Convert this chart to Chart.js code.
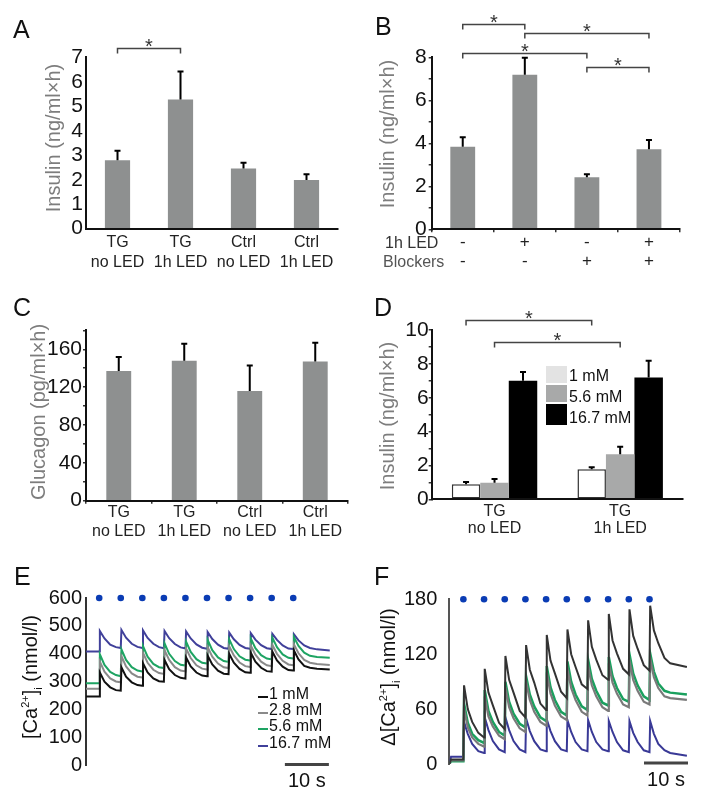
<!DOCTYPE html>
<html>
<head>
<meta charset="utf-8">
<title>Insulin, glucagon and [Ca2+]i</title>
<script src="https://cdn.jsdelivr.net/npm/chart.js@4.4.1/dist/chart.umd.min.js"></script>
<style>
  body { margin: 0; background: #fff; font-family: "Liberation Sans", Arial, sans-serif; }
  #fig { position: relative; width: 705px; height: 797px; overflow: hidden; }
  #fig canvas { position: absolute; }
  .tag { position: absolute; font-size: 25px; line-height: 1; color: #111; }
  .ytitle { position: absolute; white-space: nowrap; font-size: 20px; line-height: 1; color: #111;
            transform: translate(-50%, -50%) rotate(-90deg); }
  .ytitle.grey { color: #7d7d7d; }
  .txt { position: absolute; white-space: nowrap; font-size: 16px; line-height: 18px; color: #111; }
  .box { position: absolute; left: 546px; width: 21px; }
  .sw { position: absolute; left: 258px; width: 10px; height: 2px; }
  sup, sub { font-size: 11px; line-height: 0; }
</style>
</head>
<body>
<div id="fig">
  <canvas id="chartA" width="352" height="290" style="left:0;top:0"></canvas>
  <canvas id="chartB" width="353" height="290" style="left:352px;top:0"></canvas>
  <canvas id="chartC" width="352" height="270" style="left:0;top:290px"></canvas>
  <canvas id="chartD" width="353" height="270" style="left:352px;top:290px"></canvas>
  <canvas id="chartE" width="352" height="237" style="left:0;top:560px"></canvas>
  <canvas id="chartF" width="353" height="237" style="left:352px;top:560px"></canvas>

  <div class="tag" style="left:13px;top:17px">A</div>
  <div class="tag" style="left:375px;top:14px">B</div>
  <div class="tag" style="left:13px;top:295px">C</div>
  <div class="tag" style="left:374px;top:295px">D</div>
  <div class="tag" style="left:14px;top:564px">E</div>
  <div class="tag" style="left:374px;top:564px">F</div>

  <div class="ytitle grey" style="left:53px;top:138px">Insulin (ng/ml×h)</div>
  <div class="ytitle grey" style="left:387px;top:134px">Insulin (ng/ml×h)</div>
  <div class="ytitle grey" style="left:38px;top:412px">Glucagon (pg/ml×h)</div>
  <div class="ytitle grey" style="left:387px;top:416px">Insulin (ng/ml×h)</div>
  <div class="ytitle" style="left:30px;top:677px">[Ca<sup>2+</sup>]<sub>i</sub> (nmol/l)</div>
  <div class="ytitle" style="left:388px;top:677px">Δ[Ca<sup>2+</sup>]<sub>i</sub> (nmol/l)</div>

  <div class="txt" style="left:385px;top:234px;color:#333">1h LED</div>
  <div class="txt" style="left:383px;top:253px;color:#555">Blockers</div>

  <div class="box" style="top:366px;height:17px;background:#e3e3e3"></div>
  <div class="box" style="top:385px;height:17px;background:#a8a9a9"></div>
  <div class="box" style="top:404px;height:21px;background:#000"></div>
  <div class="txt" style="left:569px;top:367px">1 mM</div>
  <div class="txt" style="left:569px;top:388px">5.6 mM</div>
  <div class="txt" style="left:569px;top:409px">16.7 mM</div>

  <div class="sw" style="top:696px;background:#111"></div>
  <div class="sw" style="top:712px;background:#8a8a8a"></div>
  <div class="sw" style="top:728px;background:#1ea463"></div>
  <div class="sw" style="top:745px;background:#40409a"></div>
  <div class="txt" style="left:269px;top:685px">1 mM</div>
  <div class="txt" style="left:269px;top:701px">2.8 mM</div>
  <div class="txt" style="left:269px;top:717px">5.6 mM</div>
  <div class="txt" style="left:269px;top:734px">16.7 mM</div>
</div>

<script>
// A: insulin release, TG and control islets
const labelsA = [['TG', 'no LED'], ['TG', '1h LED'], ['Ctrl', 'no LED'], ['Ctrl', '1h LED']];
const insulinA = [2.8, 5.28, 2.46, 1.99];
const semA = [0.38, 1.14, 0.23, 0.23];
const sigA = [[0, 0, 1, 7.4]];            // dataset, from, to, level

// B: light and blockers
const labelsB = [['-', '-'], ['+', '-'], ['-', '+'], ['+', '+']];
const insulinB = [3.84, 7.19, 2.42, 3.72];
const semB = [0.44, 0.79, 0.14, 0.43];
const sigB = [[0, 0, 1, 9.55], [0, 1, 3, 9.12], [0, 0, 2, 8.21], [0, 2, 3, 7.56]];

// C: glucagon
const labelsC = [['TG', 'no LED'], ['TG', '1h LED'], ['Ctrl', 'no LED'], ['Ctrl', '1h LED']];
const glucagonC = [137, 148, 116, 147];
const semC = [15, 18, 27, 20];

// D: glucose dependence
const labelsD = [['TG', 'no LED'], ['TG', '1h LED']];
const insulin1mM = [0.89, 1.77];
const sem1mM = [0.13, 0.12];
const insulin56mM = [0.98, 2.66];
const sem56mM = [0.22, 0.45];
const insulin167mM = [7.0, 7.2];
const sem167mM = [0.52, 0.99];
const sigD = [[0, 0, 1, 10.59], [1, 0, 1, 9.31]];

// E: [Ca2+]i traces, time in s
const timeE = [0,
  3.0, 3.15, 4.2, 5.5, 6.8,
  7.9, 8.05, 9.1, 10.4, 11.7,
  12.8, 12.95, 14.0, 15.3, 16.6,
  17.7, 17.85, 18.9, 20.2, 21.5,
  22.6, 22.75, 23.8, 25.1, 26.4,
  27.5, 27.65, 28.7, 30.0, 31.3,
  32.4, 32.55, 33.6, 34.9, 36.2,
  37.3, 37.45, 38.5, 39.8, 41.1,
  42.2, 42.35, 43.4, 44.7, 46.0,
  47.1, 47.25, 48.3, 49.6, 50.9,
  52.5, 55.4];
const caE1 = [247,
  247, 333, 300, 280, 270,
  268, 352, 318, 298, 288,
  286, 366, 333, 312, 302,
  300, 378, 345, 324, 314,
  311, 387, 355, 333, 322,
  320, 394, 362, 340, 329,
  327, 400, 368, 346, 334,
  332, 404, 372, 350, 338,
  336, 408, 376, 354, 342,
  340, 412, 380, 357, 350,
  347, 344];
const caE28 = [275,
  275, 372, 336, 312, 301,
  298, 392, 355, 330, 318,
  315, 404, 368, 343, 331,
  328, 413, 378, 352, 340,
  337, 419, 385, 359, 347,
  344, 424, 390, 365, 352,
  349, 427, 394, 369, 356,
  353, 430, 397, 372, 359,
  356, 432, 400, 375, 362,
  359, 434, 402, 378, 368,
  364, 360];
const caE56 = [295,
  295, 398, 360, 335, 324,
  320, 416, 378, 352, 340,
  337, 428, 390, 364, 352,
  349, 438, 400, 374, 361,
  358, 444, 407, 381, 368,
  365, 450, 413, 387, 374,
  371, 452, 417, 391, 379,
  376, 455, 420, 395, 383,
  380, 458, 424, 398, 386,
  383, 460, 428, 404, 393,
  389, 386];
const caE167 = [408,
  408, 482, 455, 433, 424,
  421, 486, 458, 436, 425,
  421, 484, 457, 436, 424,
  420, 482, 456, 435, 423,
  419, 480, 455, 434, 422,
  418, 478, 453, 433, 421,
  418, 476, 452, 432, 421,
  418, 474, 451, 431, 420,
  417, 472, 450, 430, 419,
  417, 470, 448, 430, 421,
  416, 412];
const stimE = [3.0, 7.9, 12.8, 17.7, 22.6, 27.5, 32.4, 37.3, 42.2, 47.1];

// F: delta [Ca2+]i traces
const timeF = [0, 0.4,
  3.2, 3.35, 4.2, 5.2, 6.6,
  7.9, 8.05, 8.9, 9.9, 11.3,
  12.6, 12.75, 13.6, 14.6, 16.0,
  17.3, 17.45, 18.3, 19.3, 20.7,
  22.0, 22.15, 23.0, 24.0, 25.4,
  26.7, 26.85, 27.7, 28.7, 30.1,
  31.4, 31.55, 32.4, 33.4, 34.8,
  36.1, 36.25, 37.1, 38.1, 39.5,
  40.8, 40.95, 41.8, 42.8, 44.2,
  45.5, 45.65, 46.5, 47.5, 48.9,
  50.2, 54.0];
const dcaF1 = [0, 5,
  5, 86, 60, 46, 34,
  29, 104, 78, 64, 45,
  38, 118, 92, 78, 58,
  51, 130, 103, 89, 66,
  59, 141, 113, 99, 79,
  72, 147, 120, 106, 87,
  82, 157, 128, 114, 97,
  92, 164, 135, 121, 104,
  98, 169, 140, 126, 108,
  102, 173, 146, 132, 116,
  110, 106];
const dcaF28 = [0, 4,
  4, 60, 40, 29, 22,
  19, 74, 52, 41, 31,
  27, 84, 62, 50, 39,
  35, 90, 70, 57, 46,
  42, 100, 77, 64, 52,
  48, 104, 83, 70, 57,
  53, 107, 86, 74, 62,
  58, 110, 89, 77, 65,
  62, 113, 92, 80, 68,
  65, 115, 95, 83, 74,
  72, 70];
const dcaF56 = [0, 3,
  3, 66, 45, 33, 26,
  23, 81, 58, 46, 35,
  31, 90, 68, 55, 44,
  40, 96, 76, 63, 51,
  47, 107, 84, 70, 57,
  53, 112, 90, 76, 63,
  59, 114, 93, 80, 67,
  64, 117, 96, 83, 71,
  68, 120, 99, 86, 74,
  70, 121, 101, 88, 80,
  78, 76];
const dcaF167 = [0, 8,
  8, 46, 33, 22, 14,
  12, 51, 37, 25, 16,
  13, 51, 37, 25, 16,
  13, 50, 36, 25, 16,
  14, 49, 36, 25, 16,
  14, 48, 35, 24, 16,
  14, 48, 35, 24, 16,
  14, 47, 35, 24, 15,
  13, 47, 34, 24, 15,
  13, 47, 33, 22, 15,
  12, 9];
const stimF = [3.2, 7.9, 12.6, 17.3, 22.0, 26.7, 31.4, 36.1, 40.8, 45.5];

const FONT = '"Liberation Sans", Arial, sans-serif';
Chart.defaults.font.family = FONT;
Chart.defaults.color = '#111';
Chart.defaults.animation = false;
Chart.defaults.responsive = false;
Chart.defaults.plugins.legend.display = false;
Chart.defaults.plugins.tooltip.enabled = false;

// upward SEM bars drawn from each bar top
function errorBars() {
  return {
    id: 'errorBars',
    afterDatasetsDraw(chart) {
      const ctx = chart.ctx, y = chart.scales.y;
      ctx.save();
      ctx.strokeStyle = '#000';
      ctx.lineWidth = 2;
      chart.data.datasets.forEach((ds, i) => {
        if (!ds.errors) return;
        chart.getDatasetMeta(i).data.forEach((bar, j) => {
          const top = y.getPixelForValue(ds.data[j] + ds.errors[j]);
          ctx.beginPath();
          ctx.moveTo(bar.x, bar.y);
          ctx.lineTo(bar.x, top);
          ctx.moveTo(bar.x - 3, top);
          ctx.lineTo(bar.x + 3, top);
          ctx.stroke();
        });
      });
      ctx.restore();
    }
  };
}

// significance brackets with an asterisk
function brackets(list) {
  return {
    id: 'brackets',
    afterDraw(chart) {
      const ctx = chart.ctx, y = chart.scales.y;
      ctx.save();
      ctx.strokeStyle = '#444';
      ctx.lineWidth = 1.5;
      ctx.fillStyle = '#333';
      ctx.font = '20px ' + FONT;
      ctx.textAlign = 'center';
      list.forEach(([ds, a, b, level]) => {
        const bars = chart.getDatasetMeta(ds).data;
        const x1 = bars[a].x, x2 = bars[b].x;
        const py = Math.round(y.getPixelForValue(level)) + 0.5;
        ctx.beginPath();
        ctx.moveTo(x1, py + 5);
        ctx.lineTo(x1, py);
        ctx.lineTo(x2, py);
        ctx.lineTo(x2, py + 5);
        ctx.stroke();
        ctx.fillText('*', (x1 + x2) / 2, py + 4);
      });
      ctx.restore();
    }
  };
}

// 10 s time scale bar under a trace panel
function scaleBar(t0, t1, label) {
  return {
    id: 'scaleBar',
    afterDraw(chart) {
      const {ctx, scales: {x, y}} = chart;
      const x1 = x.getPixelForValue(t0), x2 = x.getPixelForValue(t1);
      const py = y.getPixelForValue(0) - 1;
      ctx.save();
      ctx.strokeStyle = '#444';
      ctx.lineWidth = 3;
      ctx.beginPath();
      ctx.moveTo(x1, py);
      ctx.lineTo(x2, py);
      ctx.stroke();
      ctx.fillStyle = '#111';
      ctx.font = '20px ' + FONT;
      ctx.textAlign = 'center';
      ctx.textBaseline = 'middle';
      ctx.fillText(label, (x1 + x2) / 2, py + 17);
      ctx.restore();
    }
  };
}

function barChart(id, labels, datasets, o) {
  return new Chart(document.getElementById(id), {
    type: 'bar',
    data: {labels: labels, datasets: datasets},
    options: {
      layout: {padding: o.pad},
      scales: {
        x: {
          grid: {display: o.xTicks, drawOnChartArea: false, drawTicks: o.xTicks, tickLength: 3, color: '#333', lineWidth: 1.5},
          border: {color: '#111', width: 2, z: 1},
          ticks: {color: '#222', font: {size: o.xFont, lineHeight: o.xLine}, padding: o.xPad, maxRotation: 0, autoSkip: false},
          afterFit: s => { s.height = o.xH; }
        },
        y: {
          min: 0, max: o.max,
          grid: {display: o.yTicks, drawOnChartArea: false, drawTicks: o.yTicks, tickLength: 3, color: '#333', lineWidth: 1.5},
          border: {color: '#111', width: 2, z: 1},
          ticks: {stepSize: o.step, autoSkip: false, font: {size: 21}, color: '#111', padding: o.yPad,
                  callback: v => (v % o.major === 0 ? v : '')},
          afterFit: s => { s.width = o.yW; }
        }
      }
    },
    plugins: [errorBars(), brackets(o.sig || [])]
  });
}

const grey = '#8e9090';

barChart('chartA', labelsA,
  [{data: insulinA, errors: semA, backgroundColor: grey, barPercentage: 0.4, categoryPercentage: 1}],
  {pad: {top: 57.3, right: 14, bottom: 0, left: 0}, yW: 86, xH: 61.3, max: 7, step: 1, major: 1,
   yPad: 3, yTicks: false, xTicks: false, xFont: 16, xLine: 1.22, xPad: 4.5, sig: sigA});

barChart('chartB', labelsB,
  [{data: insulinB, errors: semB, backgroundColor: grey, barPercentage: 0.4, categoryPercentage: 1}],
  {pad: {top: 57.3, right: 25, bottom: 0, left: 0}, yW: 79.7, xH: 60.7, max: 8, step: 1, major: 2,
   yPad: 2, yTicks: true, xTicks: true, xFont: 17, xLine: 1.1, xPad: 1, sig: sigB});

barChart('chartC', labelsC,
  [{data: glucagonC, errors: semC, backgroundColor: grey, barPercentage: 0.38, categoryPercentage: 1}],
  {pad: {top: 40.4, right: 4, bottom: 0, left: 0}, yW: 86, xH: 59.3, max: 180, step: 20, major: 40,
   yPad: 1, yTicks: true, xTicks: true, xFont: 16, xLine: 1.15, xPad: 0});

barChart('chartD', labelsD, [
    {label: '1 mM', data: insulin1mM, errors: sem1mM, backgroundColor: '#fff', borderColor: '#333', borderWidth: 1.5,
     borderSkipped: false, barPercentage: 1, categoryPercentage: 0.68},
    {label: '5.6 mM', data: insulin56mM, errors: sem56mM, backgroundColor: '#a8a9a9', barPercentage: 1, categoryPercentage: 0.68},
    {label: '16.7 mM', data: insulin167mM, errors: sem167mM, backgroundColor: '#000', barPercentage: 1, categoryPercentage: 0.68}
  ],
  {pad: {top: 40, right: 22, bottom: 0, left: 0}, yW: 79.7, xH: 60.7, max: 10, step: 1, major: 2,
   yPad: 0, yTicks: true, xTicks: false, xFont: 16, xLine: 1.06, xPad: 3.5, sig: sigD});

function traceChart(id, time, series, stim, o) {
  const datasets = series.map(s => ({
    label: s.label,
    data: time.map((t, i) => ({x: t, y: s.values[i]})),
    borderColor: s.color,
    borderWidth: s.width,
    pointRadius: 0,
    tension: 0
  }));
  datasets.push({
    label: 'light pulse',
    data: stim.map(t => ({x: t, y: o.max})),
    showLine: false,
    pointRadius: 3.3,
    pointBackgroundColor: '#0a3cb4',
    pointBorderWidth: 0,
    clip: false
  });
  return new Chart(document.getElementById(id), {
    type: 'line',
    data: {datasets: datasets},
    options: {
      layout: {padding: o.pad},
      scales: {
        x: {type: 'linear', min: 0, max: 56, display: false},
        y: {
          min: 0, max: o.max,
          grid: {display: false, drawTicks: false},
          border: {color: o.axis, width: 2},
          ticks: {stepSize: o.step, font: {size: 20}, color: '#111', padding: o.yPad},
          afterFit: s => { s.width = o.yW; }
        }
      }
    },
    plugins: [scaleBar(o.bar[0], o.bar[1], '10 s')]
  });
}

traceChart('chartE', timeE, [
    {label: '1 mM', values: caE1, color: '#111', width: 2},
    {label: '2.8 mM', values: caE28, color: '#8a8a8a', width: 2},
    {label: '5.6 mM', values: caE56, color: '#1ea463', width: 2},
    {label: '16.7 mM', values: caE167, color: '#40409a', width: 2}
  ], stimE,
  {pad: {top: 38, right: 19.6, bottom: 31.5, left: 0}, yW: 86, max: 600, step: 100, yPad: 4,
   axis: '#333', bar: [45.2, 55.2]});

traceChart('chartF', timeF, [
    {label: '1 mM', values: dcaF1, color: '#333', width: 2},
    {label: '2.8 mM', values: dcaF28, color: '#7a7a7a', width: 2.2},
    {label: '5.6 mM', values: dcaF56, color: '#1aa05e', width: 2.5},
    {label: '16.7 mM', values: dcaF167, color: '#393996', width: 2}
  ], stimF,
  {pad: {top: 39.3, right: 9.3, bottom: 33, left: 0}, yW: 97.3, max: 180, step: 60, yPad: 12,
   axis: '#555', bar: [44.25, 54.25]});
</script>
</body>
</html>
